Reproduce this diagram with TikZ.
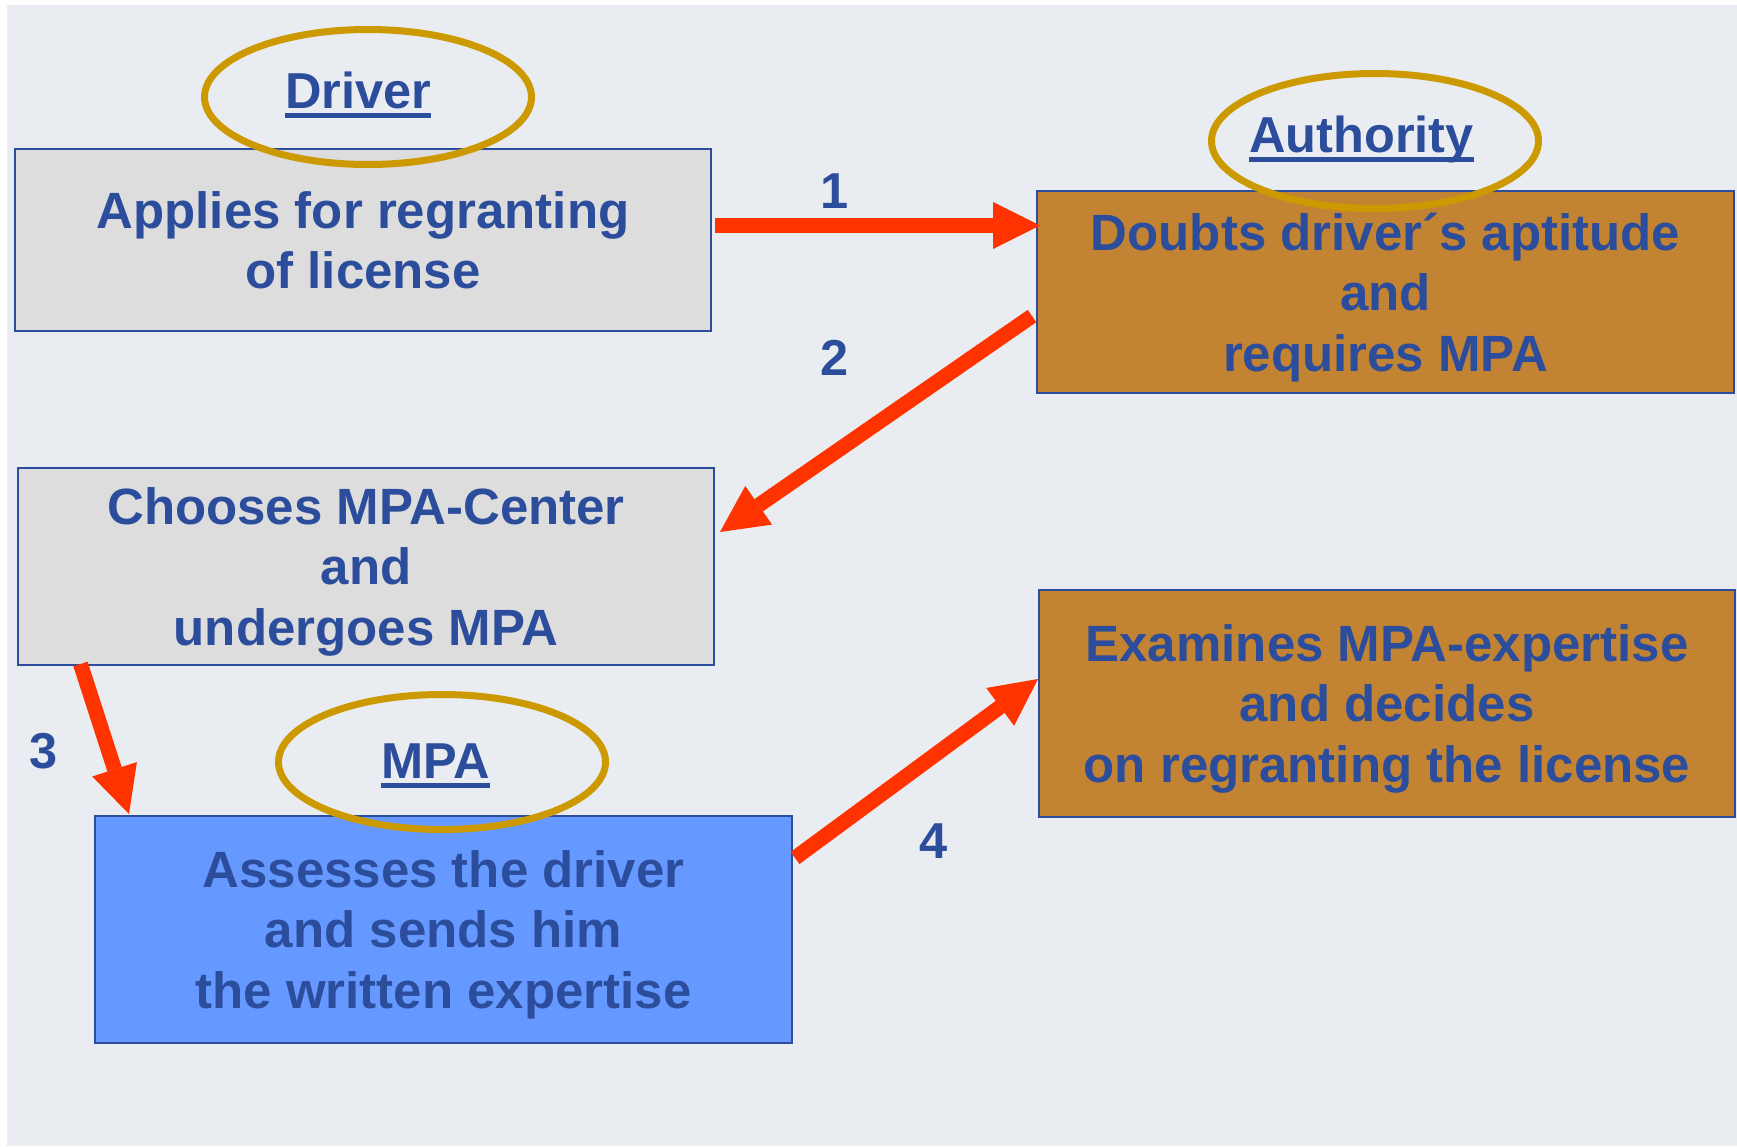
\documentclass[tikz,border=0pt]{standalone}
\usepackage{fontspec}
\setmainfont{Liberation Sans}
\usetikzlibrary{shapes.geometric,arrows.meta,calc}
\definecolor{bgc}{RGB}{233,237,241}
\definecolor{txt}{RGB}{44,77,155}
\definecolor{grayb}{RGB}{221,221,221}
\definecolor{orng}{RGB}{194,132,51}
\definecolor{blueb}{RGB}{102,153,255}
\definecolor{ovalc}{RGB}{204,153,0}
\definecolor{arrc}{RGB}{255,51,0}
\newcommand{\ulword}[1]{\setbox0\hbox{#1}\rlap{\rule[-10pt]{\wd0}{5pt}}\box0}
\newcommand{\lastline}[1]{\raisebox{0pt}[\height][0pt]{#1}}
\begin{document}
\begin{tikzpicture}[x=1pt,y=-1pt,
  box/.style={draw=txt, line width=2pt, inner sep=0pt, align=center, text=txt,
    font=\fontsize{51}{60.5}\selectfont\bfseries},
  oval/.style={ellipse, draw=ovalc, line width=7pt, inner sep=0pt,
    minimum width=327pt, minimum height=135pt},
  lbl/.style={text=txt, inner sep=0pt, anchor=base, font=\fontsize{50.5}{60}\selectfont\bfseries},
  arr/.style={draw=arrc, line width=15pt, -{Triangle[length=47pt,width=47pt,line width=0pt]}}]
\useasboundingbox (0,0) rectangle (1737,1146);
\fill[white] (0,0) rectangle (1737,1146);
\fill[bgc] (7,5) rectangle (1737,1146);

\node[box, fill=grayb, minimum width=696pt, minimum height=182pt] (drv) at (363,240)
  {Applies for regranting\\\lastline{of license}};
\node[box, fill=orng, minimum width=697pt, minimum height=202pt] (auth) at (1385.5,292)
  {Doubts driver´s aptitude\\and\\\lastline{requires MPA}};
\node[box, fill=grayb, minimum width=696pt, minimum height=197pt] (choose) at (366,566.5)
  {Chooses MPA-Center\\and\\\lastline{undergoes MPA}};
\node[box, fill=blueb, minimum width=697pt, minimum height=227pt] (assess) at (443.5,929.5)
  {Assesses the driver\\and sends him\\\lastline{the written expertise}};
\node[box, fill=orng, minimum width=696pt, minimum height=227pt] (exam) at (1387,703.5)
  {Examines MPA-expertise\\and decides\\\lastline{on regranting the license}};

\node[oval] (drvOval) at (368,97) {};
\node[oval] (authOval) at (1375,141) {};
\node[oval] (mpaOval) at (442,762) {};

\node[lbl] (drvLbl) at (358,108) {\ulword{Driver}};
\node[lbl] (authLbl) at (1361.5,152) {\ulword{Authority}};
\node[lbl] (mpaLbl) at (435.5,778) {\ulword{MPA}};

\node[lbl] (n1) at (834.5,208) {1};
\node[lbl] (n2) at (835,375) {2};
\node[lbl] (n3) at (43.5,768) {3};
\node[lbl] (n4) at (933.5,858) {4};

\draw[arr] ($(drv.east)+(3,-14.5)$) -- ($(auth.west)+(4,-66.5)$);
\draw[arr] ($(auth.west)+(-4,24)$) -- ($(choose.east)+(5,-34.5)$);
\draw[arr] ($(choose.south west)+(63.5,-2)$) -- ($(assess.north west)+(35,-1)$);
\draw[arr] ($(assess.east)+(2,-71.5)$) -- ($(exam.west)+(0,-24.5)$);
\end{tikzpicture}
\end{document}
